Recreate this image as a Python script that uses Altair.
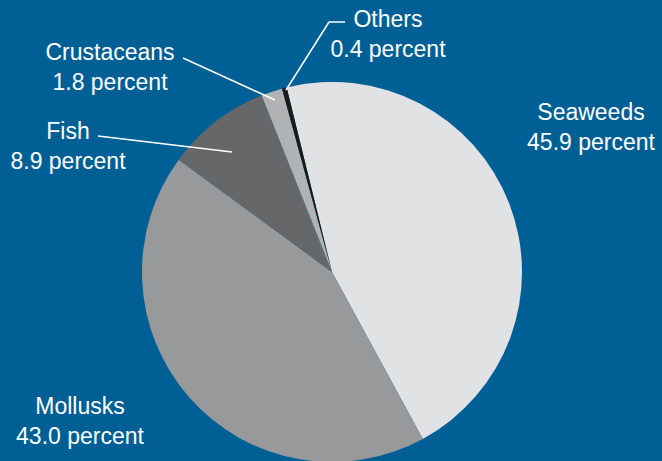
import math
import altair as alt
import pandas as pd

categories = ["Seaweeds", "Mollusks", "Fish", "Crustaceans", "Others"]
values = [45.9, 43.0, 8.9, 1.8, 0.4]
colors = ["#e1e2e4", "#98999b", "#666769", "#b1b2b4", "#1a1a1a"]

# label layout (pixel positions of label centres)
label_x = [591, 80, 68, 110, 388]
label_y = [113, 407, 132, 53, 20]

# leader lines (x, y, x2, y2)
leaders = [
    (183, 58, 275, 100),
    (98, 136, 232, 152),
    (286, 90, 329, 22),
    (329, 22, 345, 22),
]

df = pd.DataFrame({
    "category": categories,
    "value": values,
    "order": list(range(len(categories))),
})

start = 2 * math.pi - math.radians(13.8)
cx, cy, r = 332, 272, 190
W, H = 662, 461
font = "Liberation Sans"
bg = "#006096"

pie = alt.Chart(df).mark_arc(outerRadius=r, stroke=None).encode(
    theta=alt.Theta("value:Q", stack=True,
                    scale=alt.Scale(range=[start, start + 2 * math.pi])),
    order=alt.Order("order:Q"),
    color=alt.Color("category:N", scale=alt.Scale(domain=categories, range=colors), legend=None),
    x=alt.value(cx),
    y=alt.value(cy),
)

lab = pd.DataFrame({
    "line1": categories,
    "line2": [f"{v:.1f} percent" for v in values],
    "lx": label_x,
    "ly": label_y,
})

xs = alt.Scale(domain=[0, W], range=[0, W])
ys = alt.Scale(domain=[0, H], range=[0, H])

t1 = alt.Chart(lab).mark_text(font=font, fontSize=23, color="white",
                              align="center", baseline="middle").encode(
    x=alt.X("lx:Q", scale=xs, axis=None),
    y=alt.Y("ly:Q", scale=ys, axis=None),
    text="line1:N",
)
t2 = alt.Chart(lab).mark_text(font=font, fontSize=23, color="white",
                              align="center", baseline="middle", dy=29.5).encode(
    x=alt.X("lx:Q", scale=xs, axis=None),
    y=alt.Y("ly:Q", scale=ys, axis=None),
    text="line2:N",
)

ld = pd.DataFrame(leaders, columns=["x", "y", "x2", "y2"])
rules = alt.Chart(ld).mark_rule(color="white", strokeWidth=1.5).encode(
    x=alt.X("x:Q", scale=xs, axis=None),
    y=alt.Y("y:Q", scale=ys, axis=None),
    x2="x2:Q",
    y2="y2:Q",
)

chart = alt.layer(pie, rules, t1, t2).resolve_scale(
    color="independent"
).properties(
    width=W, height=H, background=bg, padding=0,
    autosize=alt.AutoSizeParams(type="none"),
).configure_view(stroke=None)

chart.save("out.html", embed_options={"renderer": "svg", "actions": False})
